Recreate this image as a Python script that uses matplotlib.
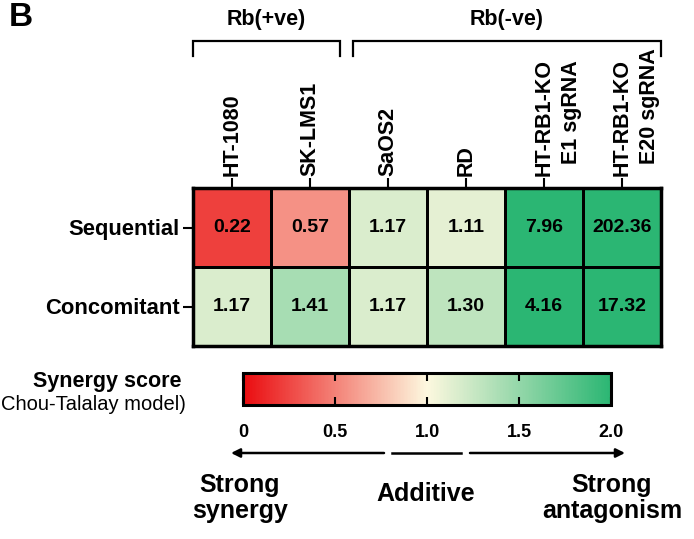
import numpy as np
import matplotlib
matplotlib.use("Agg")
import matplotlib.pyplot as plt
import matplotlib.transforms as mtransforms
from matplotlib.colors import LinearSegmentedColormap, Normalize
from matplotlib.cm import ScalarMappable

plt.rcParams['font.family'] = ['Liberation Sans', 'DejaVu Sans']

# data
cell_lines = ['HT-1080', 'SK-LMS1', 'SaOS2', 'RD', 'HT-RB1-KO', 'HT-RB1-KO']
cell_lines_sub = ['', '', '', '', 'E1 sgRNA', 'E20 sgRNA']
treatments = ['Sequential', 'Concomitant']
sequential = [0.22, 0.57, 1.17, 1.11, 7.96, 202.36]
concomitant = [1.17, 1.41, 1.17, 1.30, 4.16, 17.32]
groups = ['Rb(+ve)', 'Rb(-ve)']
cbar_ticks = [0, 0.5, 1.0, 1.5, 2.0]
cbar_ticklabels = ['0', '0.5', '1.0', '1.5', '2.0']

scores = np.array([sequential, concomitant])

cmap = LinearSegmentedColormap.from_list('syn', ['#EA0C10', '#FDF8DF', '#2BB673'])
norm = Normalize(vmin=0, vmax=2)

W, H = 694, 539
fig = plt.figure(figsize=(W / 100, H / 100), dpi=100)

# heatmap
ax = fig.add_axes([193 / W, 1 - 346 / H, 468 / W, 158 / H])
ax.pcolormesh(np.clip(scores, 0, 2), cmap=cmap, norm=norm,
              edgecolors='k', linewidth=2)
ax.set_xlim(0, len(cell_lines))
ax.set_ylim(len(treatments), 0)
for i in range(scores.shape[0]):
    for j in range(scores.shape[1]):
        ax.text(j + 0.5, i + 0.5, f'{scores[i, j]:.2f}', ha='center', va='center',
                fontsize=14, fontweight='bold')
for s in ax.spines.values():
    s.set_linewidth(2.5)

ax.set_yticks(np.arange(len(treatments)) + 0.5)
ax.set_yticklabels(treatments, fontsize=15.8, fontweight='bold')
ax.tick_params(axis='y', length=7, width=1.5, pad=2.5)

ax.xaxis.tick_top()
ax.set_xticks(np.arange(len(cell_lines)) + 0.5)
ax.set_xticklabels([])
ax.tick_params(axis='x', length=7, width=1.5)

top = mtransforms.blended_transform_factory(ax.transData, ax.transAxes)
for j, (name, sub) in enumerate(zip(cell_lines, cell_lines_sub)):
    tr = mtransforms.offset_copy(top, fig=fig, x=0, y=8.5, units='points')
    ax.text(j + 0.5, 1, name, transform=tr, rotation=90, ha='center', va='bottom',
            fontsize=15.5, fontweight='bold', clip_on=False)
    if sub:
        tr2 = mtransforms.offset_copy(top, fig=fig, x=20, y=17.5, units='points')
        ax.text(j + 0.5, 1, sub, transform=tr2, rotation=90, ha='center', va='bottom',
                fontsize=15.5, fontweight='bold', clip_on=False)

# colorbar
cax = fig.add_axes([243 / W, 1 - 405 / H, 368 / W, 32 / H])
cb = fig.colorbar(ScalarMappable(norm=norm, cmap=cmap), cax=cax, orientation='horizontal')
cb.set_ticks(cbar_ticks)
cb.set_ticklabels(cbar_ticklabels)
cb.outline.set_linewidth(2.2)
cax.tick_params(direction='in', top=True, bottom=True, length=6, width=1.5, pad=13.5)
for t in cax.get_xticklabels():
    t.set_fontsize(13)
    t.set_fontweight('bold')

# annotations in pixel coordinates
ov = fig.add_axes([0, 0, 1, 1])
ov.set_xlim(0, W)
ov.set_ylim(H, 0)
ov.axis('off')

ov.text(21, 17, 'B', fontsize=24, fontweight='bold', ha='center', va='center')

brackets = [(193, 340), (353, 661)]
for (x0, x1), g in zip(brackets, groups):
    ov.plot([x0, x0, x1, x1], [56, 41, 41, 56], color='k', lw=1.6, solid_joinstyle='miter')
    ov.text((x0 + x1) / 2, 20, g, fontsize=15.5, fontweight='bold', ha='center', va='center')

ov.text(182, 381, 'Synergy score', fontsize=15.5, fontweight='bold', ha='right', va='center')
ov.text(186, 404, 'Chou-Talalay model)', fontsize=14.5, ha='right', va='center')

ov.annotate('', xy=(231, 453), xytext=(384, 453),
            arrowprops=dict(arrowstyle='-|>', lw=1.8, color='k', mutation_scale=13,
                            shrinkA=0, shrinkB=0))
ov.plot([392, 461], [453, 453], color='k', lw=1.8)
ov.annotate('', xy=(625, 453), xytext=(470, 453),
            arrowprops=dict(arrowstyle='-|>', lw=1.8, color='k', mutation_scale=13,
                            shrinkA=0, shrinkB=0))

ov.text(240, 498, 'Strong\nsynergy', fontsize=18, fontweight='bold', ha='center',
        va='center', linespacing=1.12)
ov.text(426, 494, 'Additive', fontsize=18, fontweight='bold', ha='center', va='center')
ov.text(612, 498, 'Strong\nantagonism', fontsize=18, fontweight='bold', ha='center',
        va='center', linespacing=1.12)

fig.savefig('out.png', dpi=100)
